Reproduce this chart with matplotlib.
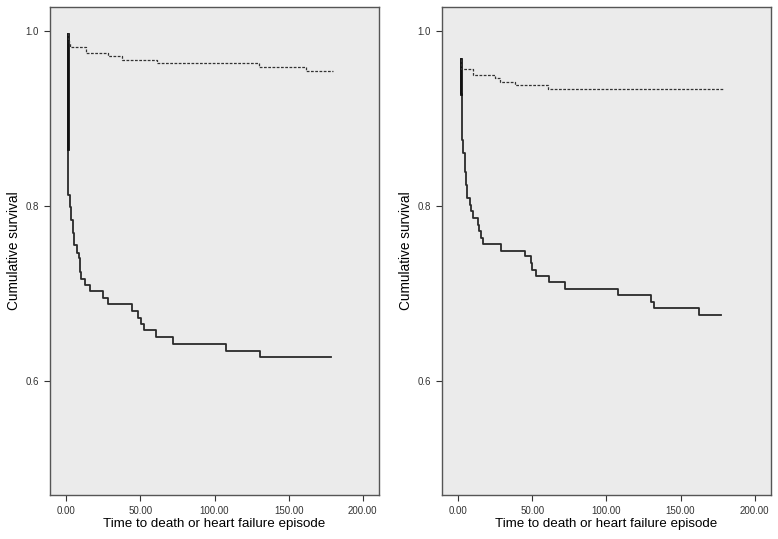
import matplotlib
matplotlib.use("Agg")
import matplotlib.pyplot as plt

plt.rcParams['font.family'] = ['Liberation Sans', 'DejaVu Sans']

# left panel: Kaplan-Meier steps (time of event, survival after event)
left_solid_t = [1.0, 1.0, 1.3, 2.4, 3.1, 4.3, 5.4, 7.2, 8.3, 9.0, 10.1, 12.8, 15.8,
                24.8, 27.9, 44.6, 48.5, 50.1, 52.3, 60.2, 71.7, 107.8, 131.0]
left_solid_s = [0.996, 0.865, 0.813, 0.799, 0.784, 0.769, 0.755, 0.746, 0.741, 0.725,
                0.717, 0.710, 0.703, 0.695, 0.688, 0.680, 0.672, 0.665, 0.658, 0.650,
                0.642, 0.635, 0.628]
left_solid_end = 178.7

left_dash_t = [1.0, 1.0, 1.5, 2.7, 13.1, 28.2, 37.9, 60.9, 129.7, 161.9]
left_dash_s = [0.997, 0.991, 0.986, 0.982, 0.975, 0.971, 0.967, 0.963, 0.959, 0.954]
left_dash_end = 179.9

# right panel
right_solid_t = [1.8, 1.8, 2.3, 3.4, 4.3, 5.2, 6.1, 7.9, 8.8, 10.1, 13.1, 14.2, 15.1,
                 16.4, 29.2, 45.4, 48.8, 50.1, 52.8, 61.1, 72.1, 108.0, 130.4, 131.9, 162.3]
right_solid_s = [0.968, 0.928, 0.875, 0.861, 0.839, 0.824, 0.809, 0.801, 0.794, 0.786,
                 0.778, 0.771, 0.764, 0.757, 0.749, 0.743, 0.735, 0.727, 0.720, 0.713,
                 0.705, 0.698, 0.690, 0.683, 0.676]
right_solid_end = 177.5

right_dash_t = [1.8, 1.8, 2.0, 9.7, 24.7, 28.1, 38.2, 60.7]
right_dash_s = [0.968, 0.962, 0.957, 0.950, 0.946, 0.942, 0.938, 0.934]
right_dash_end = 179.3

x_ticks = [0, 50, 100, 150, 200]
x_tick_labels = ["0.00", "50.00", "100.00", "150.00", "200.00"]
y_ticks = [0.6, 0.8, 1.0]
y_tick_labels = ["0.6", "0.8", "1.0"]

fig = plt.figure(figsize=(7.78, 5.39), dpi=100)
fig.patch.set_facecolor("white")

panels = [
    (0.0643, left_solid_t, left_solid_s, left_solid_end, left_dash_t, left_dash_s, left_dash_end),
    (0.568, right_solid_t, right_solid_s, right_solid_end, right_dash_t, right_dash_s, right_dash_end),
]

for left, st, ss, se, dt, ds, de in panels:
    ax = fig.add_axes([left, 0.0816, 0.4229, 0.905])
    ax.set_facecolor("#ebebeb")
    # early drop drawn thicker like the original export
    ax.step(st + [se], ss + [ss[-1]], where="post", color="#2a2a2a", lw=1.3)
    ax.plot([st[0], st[1]], [ss[0], ss[1]], color="#111111", lw=2.0)
    ax.step(dt + [de], ds + [ds[-1]], where="post", color="#333333", lw=0.9,
            linestyle=(0, (2.2, 1.2)))
    ax.set_xlim(-11, 211)
    ax.set_ylim(0.47, 1.027)
    ax.set_xticks(x_ticks)
    ax.set_xticklabels(x_tick_labels)
    ax.set_yticks(y_ticks)
    ax.set_yticklabels(y_tick_labels)
    ax.tick_params(axis="both", labelsize=7, colors="#333333", length=4, width=0.8, pad=4)
    for side in ["left", "bottom", "right", "top"]:
        ax.spines[side].set_color("#555555")
        ax.spines[side].set_linewidth(1.0)
    ax.set_xlabel("Time to death or heart failure episode", fontsize=9.6, labelpad=1)
    ax.set_ylabel("Cumulative survival", fontsize=9.8, labelpad=3)

fig.savefig("out.png", dpi=100)
